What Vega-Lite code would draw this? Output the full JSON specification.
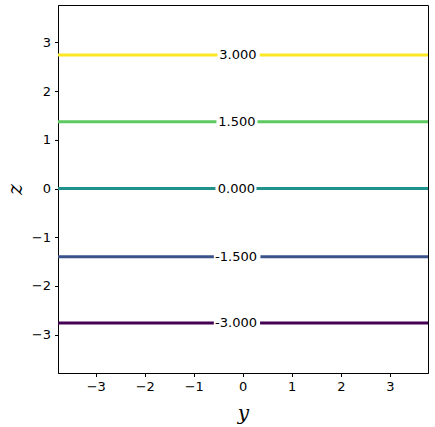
{
  "$schema": "https://vega.github.io/schema/vega-lite/v6.json",
  "width": 370,
  "height": 368,
  "autosize": {"type": "none"},
  "padding": {"left": 58, "top": 5, "right": 7, "bottom": 54},
  "background": "white",
  "config": {
    "view": {"stroke": "black", "strokeWidth": 1},
    "axis": {
      "grid": false,
      "domainColor": "black",
      "tickColor": "black",
      "tickSize": 3.5,
      "labelColor": "black",
      "labelFont": "DejaVu Sans",
      "labelFontSize": 13,
      "titleColor": "black",
      "titleFont": "DejaVu Serif",
      "titleFontStyle": "italic",
      "titleFontWeight": "normal",
      "titleFontSize": 20
    }
  },
  "datasets": {
    "segments": [
      {"level": 3, "z": 2.745, "start": -3.8, "end": -0.516},
      {"level": 3, "z": 2.745, "start": 0.347, "end": 3.8},
      {"level": 1.5, "z": 1.372, "start": -3.8, "end": -0.537},
      {"level": 1.5, "z": 1.372, "start": 0.30, "end": 3.8},
      {"level": 0, "z": 0, "start": -3.8, "end": -0.557},
      {"level": 0, "z": 0, "start": 0.28, "end": 3.8},
      {"level": -1.5, "z": -1.4, "start": -3.8, "end": -0.59},
      {"level": -1.5, "z": -1.4, "start": 0.361, "end": 3.8},
      {"level": -3, "z": -2.765, "start": -3.8, "end": -0.59},
      {"level": -3, "z": -2.765, "start": 0.353, "end": 3.8}
    ],
    "labels": [
      {"level": 3, "z": 2.745, "pos": -0.10, "label": "3.000"},
      {"level": 1.5, "z": 1.372, "pos": -0.12, "label": "1.500"},
      {"level": 0, "z": 0, "pos": -0.13, "label": "0.000"},
      {"level": -1.5, "z": -1.4, "pos": -0.137, "label": "-1.500"},
      {"level": -3, "z": -2.765, "pos": -0.137, "label": "-3.000"}
    ]
  },
  "layer": [
    {
      "data": {"name": "segments"},
      "mark": {"type": "rule", "strokeWidth": 3, "clip": true, "strokeCap": "butt"},
      "encoding": {
        "x": {"field": "start", "type": "quantitative",
              "scale": {"domain": [-3.77, 3.78], "nice": false, "zero": false},
              "axis": {"values": [-3, -2, -1, 0, 1, 2, 3], "title": "y", "titlePadding": 10, "labelPadding": 4}},
        "x2": {"field": "end"},
        "y": {"field": "z", "type": "quantitative",
              "scale": {"domain": [-3.79, 3.77], "nice": false, "zero": false},
              "axis": {"values": [-3, -2, -1, 0, 1, 2, 3], "title": "z", "titlePadding": 6, "labelPadding": 4}},
        "color": {"field": "level", "type": "quantitative",
                  "scale": {"type": "ordinal", "domain": [-3, -1.5, 0, 1.5, 3],
                            "range": ["#440154", "#3b528b", "#21918c", "#5ec962", "#fde725"]},
                  "legend": null}
      }
    },
    {
      "data": {"name": "labels"},
      "mark": {"type": "text", "font": "DejaVu Sans", "fontSize": 13, "color": "black", "align": "center", "baseline": "middle"},
      "encoding": {
        "x": {"field": "pos", "type": "quantitative"},
        "y": {"field": "z", "type": "quantitative"},
        "text": {"field": "label"}
      }
    }
  ]
}
